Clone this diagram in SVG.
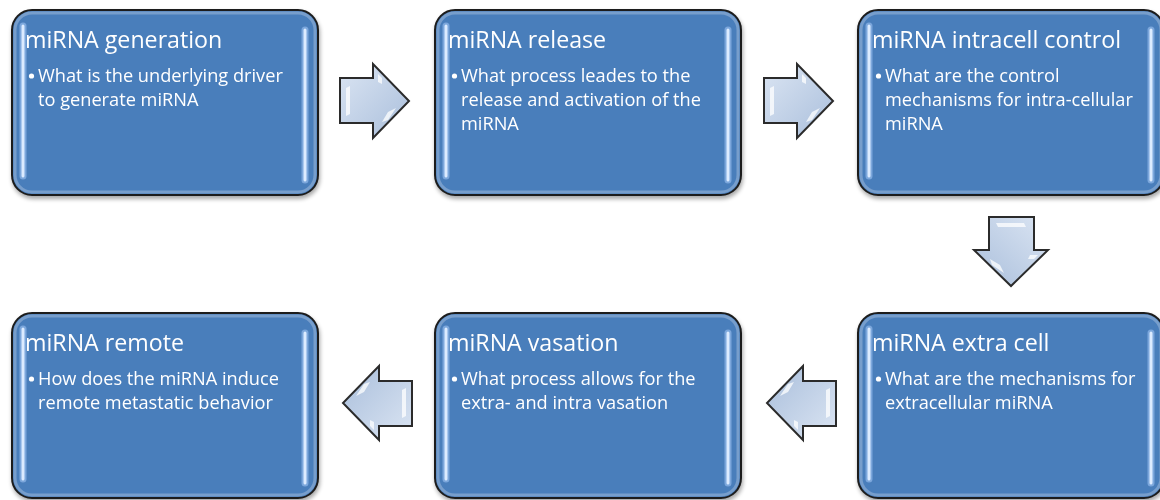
<svg xmlns="http://www.w3.org/2000/svg" width="1160" height="500" viewBox="0 0 1160 500">
  <style>
    .box { fill: #4a7ebb; stroke: #1e1e1e; stroke-width: 2; }
    .shade { fill: none; stroke: #ffffff; stroke-opacity: 0.25; stroke-width: 3; }
    .gleam { stroke: #dcebff; stroke-width: 3; stroke-linecap: round; }
    .glow { stroke: #9cc3f2; stroke-width: 7; stroke-linecap: round; stroke-opacity: 0.6; }
    .title { font-family: "Open Sans", "Liberation Sans", sans-serif; font-size: 23.2px; fill: #ffffff; }
    .item { font-family: "Open Sans", "Liberation Sans", sans-serif; font-size: 18.2px; fill: #ffffff; }
    .dot { fill: #ffffff; }
    .arrow { fill: url(#arrowFill); stroke: #2b2b2b; stroke-width: 2; stroke-linejoin: miter; }
    .bevel { fill: #ffffff; fill-opacity: 0.75; }
  </style>
  <defs>
    <linearGradient id="arrowFill" x1="0" y1="0" x2="1" y2="1">
      <stop offset="0" stop-color="#dbe5f3"/>
      <stop offset="1" stop-color="#a9bedb"/>
    </linearGradient>
    <filter id="drop" x="-10%" y="-10%" width="120%" height="125%">
      <feGaussianBlur in="SourceAlpha" stdDeviation="2"/>
      <feOffset dx="1" dy="3" result="b"/>
      <feComponentTransfer><feFuncA type="linear" slope="0.35"/></feComponentTransfer>
      <feMerge><feMergeNode/><feMergeNode in="SourceGraphic"/></feMerge>
    </filter>
    <!-- shared card frame: body, inner rim and two light strips -->
    <g id="card">
      <rect class="box" x="0" y="0" width="306" height="185" rx="20" ry="20"/>
      <rect class="shade" x="3" y="3" width="300" height="179" rx="17" ry="17"/>
      <line class="glow" x1="11" y1="16" x2="11" y2="166"/>
      <line class="glow" x1="293" y1="20" x2="293" y2="170"/>
      <line class="gleam" x1="11" y1="16" x2="11" y2="166"/>
      <line class="gleam" x1="293" y1="20" x2="293" y2="170"/>
    </g>
    <!-- shared right-pointing block arrow, 69 x 74 -->
    <g id="rarrow">
      <path class="arrow" d="M0,14 H33 V0 L69,37 L33,74 V59 H0 Z"/>
      <path class="bevel" d="M6,24 L10,22 L10,50 L6,52 Z"/>
      <path class="bevel" d="M38,10 L42,14 L42,20 L38,18 Z"/>
      <path class="bevel" d="M48,48 L56,44 L48,56 L42,58 Z"/>
    </g>
  </defs>

  <!-- cards -->
  <g id="node-generation" filter="url(#drop)">
    <use href="#card" x="12" y="10"/>
    <text class="title" x="25" y="48">miRNA generation</text>
    <circle class="dot" cx="31.5" cy="76" r="2.6"/>
    <text class="item" x="38" y="82">What is the underlying driver</text>
    <text class="item" x="38" y="106">to generate miRNA</text>
  </g>
  <g id="node-release" filter="url(#drop)">
    <use href="#card" x="435" y="10"/>
    <text class="title" x="448" y="48">miRNA release</text>
    <circle class="dot" cx="454.5" cy="76" r="2.6"/>
    <text class="item" x="461" y="82">What process leades to the</text>
    <text class="item" x="461" y="106">release and activation of the</text>
    <text class="item" x="461" y="130">miRNA</text>
  </g>
  <g id="node-intracell" filter="url(#drop)">
    <use href="#card" x="858" y="10"/>
    <text class="title" x="872" y="48">miRNA intracell control</text>
    <circle class="dot" cx="878.5" cy="76" r="2.6"/>
    <text class="item" x="885" y="82">What are the control</text>
    <text class="item" x="885" y="106">mechanisms for intra-cellular</text>
    <text class="item" x="885" y="130">miRNA</text>
  </g>
  <g id="node-extracell" filter="url(#drop)">
    <use href="#card" x="858" y="313"/>
    <text class="title" x="872" y="351">miRNA extra cell</text>
    <circle class="dot" cx="878.5" cy="379" r="2.6"/>
    <text class="item" x="885" y="385">What are the mechanisms for</text>
    <text class="item" x="885" y="409">extracellular miRNA</text>
  </g>
  <g id="node-vasation" filter="url(#drop)">
    <use href="#card" x="435" y="313"/>
    <text class="title" x="448" y="351">miRNA vasation</text>
    <circle class="dot" cx="454.5" cy="379" r="2.6"/>
    <text class="item" x="461" y="385">What process allows for the</text>
    <text class="item" x="461" y="409">extra- and intra vasation</text>
  </g>
  <g id="node-remote" filter="url(#drop)">
    <use href="#card" x="12" y="313"/>
    <text class="title" x="25" y="351">miRNA remote</text>
    <circle class="dot" cx="31.5" cy="379" r="2.6"/>
    <text class="item" x="38" y="385">How does the miRNA induce</text>
    <text class="item" x="38" y="409">remote metastatic behavior</text>
  </g>

  <!-- connectors: block arrows between cards -->
  <g id="connectors">
    <use href="#rarrow" transform="translate(340,64)"/>
    <use href="#rarrow" transform="translate(764,64)"/>
    <use href="#rarrow" transform="translate(1048,217) rotate(90)"/>
    <use href="#rarrow" transform="translate(836,440) rotate(180)"/>
    <use href="#rarrow" transform="translate(412,440) rotate(180)"/>
  </g>
</svg>
